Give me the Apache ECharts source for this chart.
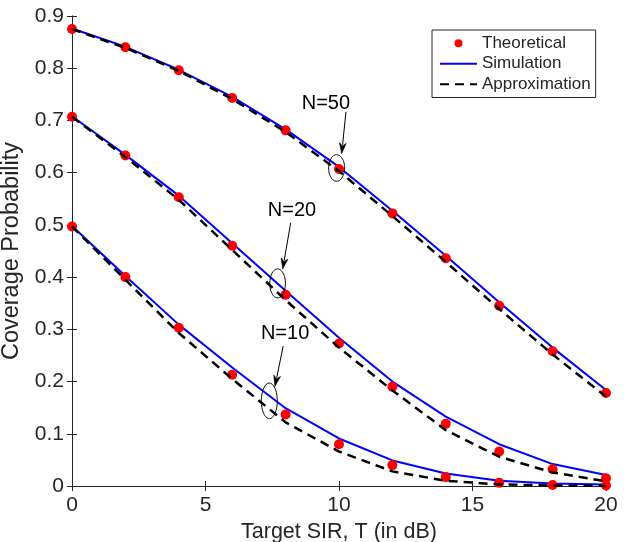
<!DOCTYPE html>
<html>
<head>
<meta charset="utf-8">
<script src="https://cdn.jsdelivr.net/npm/echarts@6/dist/echarts.min.js"></script>
<style>html,body{margin:0;padding:0;background:#fff;}#c{width:624px;height:542px;}</style>
</head>
<body>
<div id="c"></div>
<script>
// ---- data ----
var T = [0, 2, 4, 6, 8, 10, 12, 14, 16, 18, 20];
var xTicks = [0, 5, 10, 15, 20];
var yTicks = [0, 0.1, 0.2, 0.3, 0.4, 0.5, 0.6, 0.7, 0.8, 0.9];

var theo50   = [0.875, 0.840, 0.796, 0.743, 0.681, 0.607, 0.522, 0.436, 0.345, 0.258, 0.178];
var sim50    = [0.876, 0.841, 0.797, 0.745, 0.683, 0.611, 0.527, 0.441, 0.352, 0.265, 0.184];
var approx50 = [0.875, 0.839, 0.795, 0.741, 0.678, 0.603, 0.517, 0.429, 0.339, 0.252, 0.171];

var theo20   = [0.707, 0.633, 0.553, 0.460, 0.366, 0.273, 0.190, 0.119, 0.066, 0.032, 0.015];
var sim20    = [0.708, 0.634, 0.556, 0.465, 0.374, 0.284, 0.200, 0.133, 0.080, 0.042, 0.021];
var approx20 = [0.707, 0.630, 0.548, 0.452, 0.356, 0.265, 0.183, 0.107, 0.056, 0.026, 0.009];

var theo10   = [0.497, 0.400, 0.303, 0.213, 0.137, 0.080, 0.040, 0.017, 0.006, 0.002, 0.001];
var sim10    = [0.498, 0.402, 0.309, 0.227, 0.149, 0.091, 0.049, 0.024, 0.010, 0.005, 0.003];
var approx10 = [0.497, 0.395, 0.293, 0.205, 0.122, 0.066, 0.028, 0.010, 0.003, 0.001, 0.000];

var annLabels = ['N=50', 'N=20', 'N=10'];
// annotation anchors (data coordinates): ellipse centre, text centre, arrow start, arrow tip
var annEllipse = [[9.91, 0.609], [7.70, 0.388], [7.39, 0.163]];
var annText    = [[9.51, 0.733], [8.24, 0.528], [7.98, 0.292]];
var annFrom    = [[10.26, 0.7165], [8.19, 0.504], [7.91, 0.268]];
var annTo      = [[10.10, 0.636], [7.89, 0.415], [7.60, 0.1906]];
var annRadii   = [[8, 13.3], [7.8, 14.5], [8, 17.8]];

// ---- chart ----
var FONT = 'Liberation Sans, Arial, Helvetica, sans-serif';
var AX = '#262626';
function pairs(ys) { return T.map(function (t, i) { return [t, ys[i]]; }); }

var groups = [[sim50, theo50, approx50], [sim20, theo20, approx20], [sim10, theo10, approx10]];
var series = [];
groups.forEach(function (g) {
  series.push({
    name: 'Simulation', type: 'line', data: pairs(g[0]), symbol: 'none', z: 2,
    lineStyle: { color: '#0000ff', width: 2 }, itemStyle: { color: '#0000ff' }, animation: false
  });
  series.push({
    name: 'Theoretical', type: 'scatter', data: pairs(g[1]), symbol: 'circle', symbolSize: 10, z: 3,
    itemStyle: { color: '#ff0000', opacity: 1 }, animation: false
  });
  series.push({
    name: 'Approximation', type: 'line', data: pairs(g[2]), symbol: 'none', z: 4,
    lineStyle: { color: '#000000', width: 2.5, type: [9, 6] }, itemStyle: { color: '#000000' }, animation: false
  });
});

var axisCommon = {
  axisLine: { show: true, lineStyle: { color: AX, width: 1 } },
  axisTick: { show: true, inside: true, length: 5, lineStyle: { color: AX } },
  splitLine: { show: false }
};

var option = {
  backgroundColor: '#fff',
  animation: false,
  textStyle: { fontFamily: FONT },
  grid: { left: 72, right: 18, top: 16, bottom: 56, containLabel: false, outerBoundsMode: 'none' },
  legend: {
    orient: 'vertical', left: 432, top: 30,
    data: [
      { name: 'Theoretical' },
      { name: 'Simulation', itemStyle: { opacity: 0 } },
      { name: 'Approximation', itemStyle: { opacity: 0 } }
    ],
    backgroundColor: '#fff', borderColor: AX, borderWidth: 1, borderRadius: 0,
    padding: [3, 5, 3, 7], itemWidth: 37, itemHeight: 8, itemGap: 0,
    textStyle: { fontFamily: FONT, fontSize: 17, color: AX, lineHeight: 20.5 }
  },
  xAxis: [
    Object.assign({
      type: 'value', position: 'bottom', min: 0, max: 20, interval: 5,
      name: 'Target SIR, T (in dB)', nameLocation: 'middle', nameGap: 22,
      nameTextStyle: { fontFamily: FONT, fontSize: 21.5, color: AX },
      axisLabel: { fontFamily: FONT, fontSize: 21, color: AX, margin: 9,
        formatter: function (v) { return xTicks.indexOf(v) >= 0 ? String(v) : ''; } }
    }, axisCommon),
    Object.assign({
      type: 'value', position: 'top', min: 0, max: 20, interval: 5,
      axisLabel: { show: false }
    }, axisCommon)
  ],
  yAxis: [
    Object.assign({
      type: 'value', position: 'left', min: 0, max: 0.9, interval: 0.1,
      name: 'Coverage Probability', nameLocation: 'middle', nameGap: 38,
      nameTextStyle: { fontFamily: FONT, fontSize: 23.5, color: AX },
      axisLabel: { fontFamily: FONT, fontSize: 21, color: AX, margin: 8,
        formatter: function (v) {
          var r = Math.round(v * 10) / 10;
          return r === 0 ? '0' : r.toFixed(1);
        } }
    }, axisCommon),
    Object.assign({
      type: 'value', position: 'right', min: 0, max: 0.9, interval: 0.1,
      axisLabel: { show: false }
    }, axisCommon)
  ],
  series: series
};

var chart = echarts.init(document.getElementById('c'), null, { renderer: 'canvas' });
chart.setOption(option);

function px(p) { return chart.convertToPixel({ gridIndex: 0 }, p); }
var elements = [];
annLabels.forEach(function (lab, i) {
  var c = px(annEllipse[i]);
  var rx = annRadii[i][0], ry = annRadii[i][1];
  var pts = [];
  for (var k = 0; k < 64; k++) {
    var a = 2 * Math.PI * k / 64;
    pts.push([c[0] + rx * Math.cos(a), c[1] + ry * Math.sin(a)]);
  }
  elements.push({ type: 'polygon', shape: { points: pts }, style: { fill: 'none', stroke: '#000', lineWidth: 1 }, z: 100 });
  var tp = px(annText[i]);
  elements.push({ type: 'text', x: tp[0], y: tp[1], style: { text: lab, fill: '#000', font: '20px ' + FONT, textAlign: 'center', textVerticalAlign: 'middle' }, z: 100 });
  var f = px(annFrom[i]), t = px(annTo[i]);
  var dx = t[0] - f[0], dy = t[1] - f[1], L = Math.sqrt(dx * dx + dy * dy);
  var ux = dx / L, uy = dy / L, hl = 11, hw = 3.5;
  var bx = t[0] - ux * hl, by = t[1] - uy * hl;
  elements.push({ type: 'line', shape: { x1: f[0], y1: f[1], x2: bx + ux * 2, y2: by + uy * 2 }, style: { stroke: '#000', lineWidth: 1 }, z: 100 });
  elements.push({ type: 'polygon', shape: { points: [[t[0], t[1]], [bx - uy * hw, by + ux * hw], [bx + ux * 3, by + uy * 3], [bx + uy * hw, by - ux * hw]] }, style: { fill: '#000', stroke: '#000', lineWidth: 0.5 }, z: 100 });
});
chart.setOption({ graphic: { elements: elements } });
</script>
</body>
</html>
